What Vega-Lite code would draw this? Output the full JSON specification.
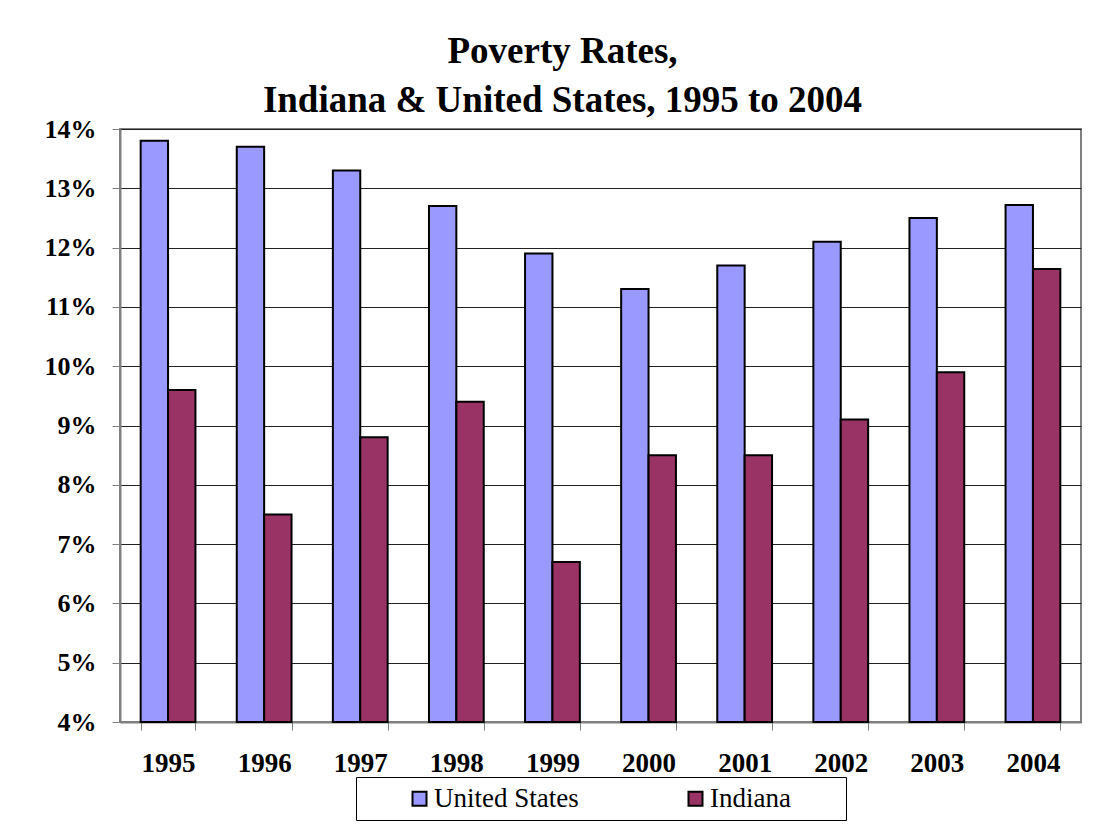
{
  "$schema": "https://vega.github.io/schema/vega-lite/v6.json",
  "autosize": {"type": "none"},
  "width": 961,
  "height": 593,
  "padding": {"left": 120, "top": 129, "right": 22, "bottom": 113},
  "background": "white",
  "title": {
    "text": ["Poverty Rates,", "Indiana & United States, 1995 to 2004"],
    "font": "Times New Roman, Liberation Serif, serif",
    "fontSize": 37,
    "fontWeight": "bold",
    "lineHeight": 49,
    "color": "black",
    "anchor": "middle",
    "frame": "group",
    "dx": -38,
    "offset": -4
  },
  "data": {
    "values": [
      {"year": "1995", "region": "United States", "rate": 13.8},
      {"year": "1995", "region": "Indiana", "rate": 9.6},
      {"year": "1996", "region": "United States", "rate": 13.7},
      {"year": "1996", "region": "Indiana", "rate": 7.5},
      {"year": "1997", "region": "United States", "rate": 13.3},
      {"year": "1997", "region": "Indiana", "rate": 8.8},
      {"year": "1998", "region": "United States", "rate": 12.7},
      {"year": "1998", "region": "Indiana", "rate": 9.4},
      {"year": "1999", "region": "United States", "rate": 11.9},
      {"year": "1999", "region": "Indiana", "rate": 6.7},
      {"year": "2000", "region": "United States", "rate": 11.3},
      {"year": "2000", "region": "Indiana", "rate": 8.5},
      {"year": "2001", "region": "United States", "rate": 11.7},
      {"year": "2001", "region": "Indiana", "rate": 8.5},
      {"year": "2002", "region": "United States", "rate": 12.1},
      {"year": "2002", "region": "Indiana", "rate": 9.1},
      {"year": "2003", "region": "United States", "rate": 12.5},
      {"year": "2003", "region": "Indiana", "rate": 9.9},
      {"year": "2004", "region": "United States", "rate": 12.72},
      {"year": "2004", "region": "Indiana", "rate": 11.64}
    ]
  },
  "mark": {"type": "bar", "stroke": "black", "strokeWidth": 2},
  "encoding": {
    "x": {
      "field": "year",
      "type": "nominal",
      "scale": {"paddingInner": 0.43, "paddingOuter": 0.215},
      "axis": {
        "title": null,
        "labelAngle": 0,
        "labelFont": "Times New Roman, Liberation Serif, serif",
        "labelFontSize": 27,
        "labelFontWeight": "bold",
        "labelColor": "black",
        "labelPadding": 20,
        "tickBand": "extent",
        "tickSize": 8,
        "tickColor": "#808080",
        "tickWidth": 1,
        "domainColor": "#808080",
        "domainWidth": 2
      }
    },
    "xOffset": {"field": "region", "type": "nominal", "sort": ["United States", "Indiana"]},
    "y": {
      "field": "rate",
      "type": "quantitative",
      "scale": {"domain": [4, 14], "nice": false, "zero": false},
      "axis": {
        "title": null,
        "values": [4, 5, 6, 7, 8, 9, 10, 11, 12, 13, 14],
        "labelExpr": "datum.value + '%'",
        "labelFont": "Times New Roman, Liberation Serif, serif",
        "labelFontSize": 26,
        "labelFontWeight": "bold",
        "labelColor": "black",
        "labelPadding": 16,
        "tickSize": 8,
        "tickColor": "#808080",
        "domainColor": "#808080",
        "domainWidth": 2,
        "grid": true,
        "gridColor": "#222222",
        "gridWidth": 1,
        "gridOpacity": 1
      }
    },
    "y2": {"datum": 4},
    "color": {
      "field": "region",
      "type": "nominal",
      "scale": {"domain": ["United States", "Indiana"], "range": ["#9999FF", "#993366"]},
      "legend": {
        "title": "\u00a0",
        "titleOrient": "right",
        "titleFontSize": 6,
        "titlePadding": 47,
        "orient": "none",
        "legendX": 236,
        "legendY": 648,
        "direction": "horizontal",
        "strokeColor": "black",
        "fillColor": "white",
        "padding": 8,
        "symbolType": "square",
        "symbolSize": 196,
        "symbolStrokeColor": "black",
        "symbolStrokeWidth": 2,
        "symbolOffset": 42,
        "labelFont": "Times New Roman, Liberation Serif, serif",
        "labelFontSize": 27,
        "labelColor": "black",
        "labelOffset": 1,
        "columnPadding": 61,
        "labelLimit": 300
      }
    }
  },
  "config": {
    "view": {"stroke": "#808080", "strokeWidth": 2}
  }
}
